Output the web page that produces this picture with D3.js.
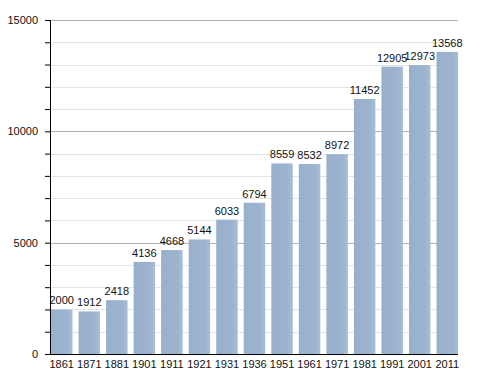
<!DOCTYPE html>
<html>
<head>
<meta charset="utf-8">
<script src="https://cdn.jsdelivr.net/npm/d3@7"></script>
<style>
  body { margin: 0; background: #fff; }
  text { font-family: "Liberation Sans", Arial, sans-serif; fill: #111; }
</style>
</head>
<body>
<svg id="chart" width="488" height="373"></svg>
<script>
var years = ["1861", "1871", "1881", "1901", "1911", "1921", "1931", "1936",
  "1951", "1961", "1971", "1981", "1991", "2001", "2011"];
var population = [2000, 1912, 2418, 4136, 4668, 5144, 6033, 6794,
  8559, 8532, 8972, 11452, 12905, 12973, 13568];
var majorTicks = [0, 5000, 10000, 15000];

var svg = d3.select("#chart"),
  margin = { top: 20, right: 30, bottom: 19, left: 50 },
  width = 488 - margin.left - margin.right,
  height = 373 - margin.top - margin.bottom;

var data = years.map(function(y, i) { return { year: y, value: population[i] }; });

var x = d3.scaleBand()
  .domain(years)
  .range([1, width])
  .paddingInner(0.22)
  .paddingOuter(0);

var y = d3.scaleLinear()
  .domain([0, 15000])
  .range([height, 0]);

var defs = svg.append("defs");
var grad = defs.append("linearGradient").attr("id", "barGrad")
  .attr("x1", "0%").attr("x2", "100%").attr("y1", "0%").attr("y2", "0%");
grad.append("stop").attr("offset", "0%").attr("stop-color", "#98b0cc");
grad.append("stop").attr("offset", "75%").attr("stop-color", "#9db4cf");
grad.append("stop").attr("offset", "100%").attr("stop-color", "#a9bdd5");

var g = svg.append("g")
  .attr("transform", "translate(" + margin.left + "," + margin.top + ")");

// minor grid lines every 1000
g.append("g").selectAll("line")
  .data(d3.range(1000, 15000, 1000).filter(function(v) { return v % 5000 !== 0; }))
  .enter().append("line")
  .attr("x1", 0).attr("x2", width)
  .attr("y1", function(d) { return Math.round(y(d)) + 0.5; })
  .attr("y2", function(d) { return Math.round(y(d)) + 0.5; })
  .attr("stroke", "#e4e4e4");

// major grid lines
g.append("g").selectAll("line")
  .data([5000, 10000, 15000])
  .enter().append("line")
  .attr("x1", 0).attr("x2", width)
  .attr("y1", function(d) { return Math.round(y(d)) + 0.5; })
  .attr("y2", function(d) { return Math.round(y(d)) + 0.5; })
  .attr("stroke", "#b0b0b0");

// bars
g.selectAll("rect.bar")
  .data(data)
  .enter().append("rect")
  .attr("class", "bar")
  .attr("x", function(d) { return x(d.year); })
  .attr("width", x.bandwidth())
  .attr("y", function(d) { return y(d.value); })
  .attr("height", function(d) { return height - y(d.value); })
  .attr("fill", "url(#barGrad)");

// value labels
g.selectAll("text.val")
  .data(data)
  .enter().append("text")
  .attr("class", "val")
  .attr("x", function(d) { return x(d.year) + x.bandwidth() / 2; })
  .attr("y", function(d) { return y(d.value) - 5; })
  .attr("text-anchor", "middle")
  .style("font-size", "11px")
  .text(function(d) { return d.value; });

// y axis
var yAxis = d3.axisLeft(y)
  .tickValues(d3.range(0, 15001, 1000))
  .tickSize(5)
  .tickPadding(7)
  .tickFormat(function(d) { return d % 5000 === 0 ? d : ""; });
var ya = g.append("g").call(yAxis);
ya.select(".domain").attr("stroke", "#000").attr("d", "M0.5," + y(15000) + "V" + height);
ya.selectAll("line").attr("stroke", "#000");
ya.selectAll("text").style("font-size", "11px").attr("fill", "#111");

// x axis
var xAxis = d3.axisBottom(x).tickSize(0).tickPadding(6);
var xa = g.append("g").attr("transform", "translate(0," + height + ")").call(xAxis);
xa.select(".domain").attr("stroke", "#000").attr("d", "M0," + 0.5 + "H" + width);
xa.selectAll("text").style("font-size", "11px").attr("fill", "#111");
</script>
</body>
</html>
